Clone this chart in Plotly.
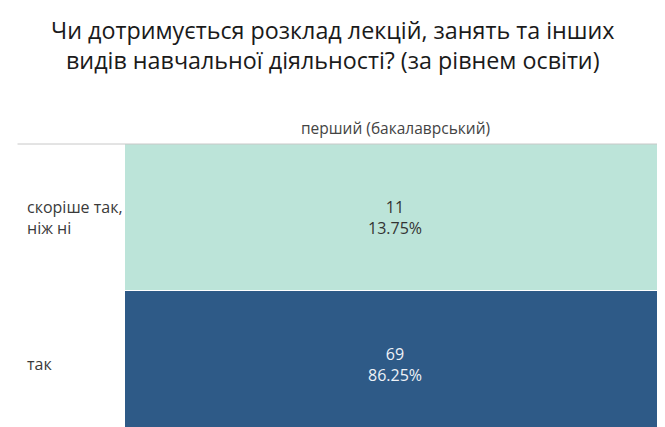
import plotly.graph_objects as go

title_text = "Чи дотримується розклад лекцій, занять та інших<br>видів навчальної діяльності? (за рівнем освіти)"
column = ["перший (бакалаврський)"]
answers = ["так", "скоріше так, ніж ні"]
answer_labels = ["так", "скоріше так,<br>ніж ні"]
counts = [69, 11]
percents = [86.25, 13.75]

z = [[c] for c in counts]

FONT = "Open Sans, sans-serif"
fig = go.Figure()
fig.add_trace(go.Heatmap(
    z=z, x=column, y=answers,
    colorscale=[[0, "#bce4d9"], [1, "#2e5a87"]],
    showscale=False, ygap=1, hoverinfo="skip",
))
for a, c, p in zip(answers, counts, percents):
    fig.add_annotation(x=column[0], y=a, text=f"{c}<br>{p:.2f}%", showarrow=False,
                       font=dict(size=16, family=FONT,
                                 color="#eef2f7" if c > 40 else "#333333"))
for a, lab in zip(answers, answer_labels):
    fig.add_annotation(xref="paper", x=-0.185, y=a, text=lab, showarrow=False, xanchor="left",
                       align="left", font=dict(size=16, family=FONT, color="#3a3a3a"))
fig.add_annotation(xref="paper", yref="paper", x=0.5, y=1, yanchor="bottom", yshift=3,
                   text=column[0], showarrow=False,
                   font=dict(size=15.5, family=FONT, color="#444444"))
fig.add_annotation(xref="paper", yref="paper", x=0.386, y=1.0, yanchor="bottom", yshift=66,
                   text=title_text, showarrow=False,
                   font=dict(size=23.3, family=FONT, color="#1a1a1a"))
fig.add_shape(type="line", xref="paper", yref="paper", x0=-0.199, x1=1.02, y0=1, y1=1,
              line=dict(color="#c8c8c8", width=1))

fig.update_layout(
    width=665, height=427,
    margin=dict(l=117, r=8, t=136, b=0),
    paper_bgcolor="white", plot_bgcolor="white",
    xaxis=dict(visible=False),
    yaxis=dict(visible=False, range=[-0.48, 1.5]),
)
fig.write_html("out.html")
